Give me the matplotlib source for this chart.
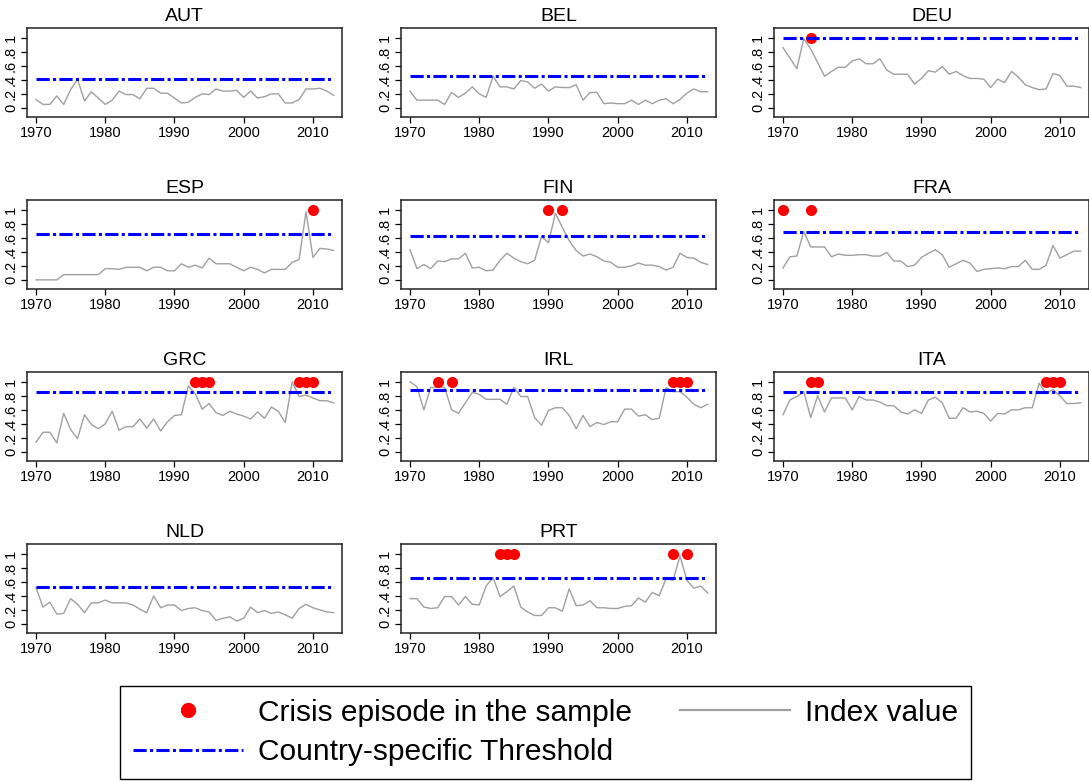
import numpy as np
import matplotlib
matplotlib.use("Agg")
import matplotlib.pyplot as plt
from matplotlib.lines import Line2D

plt.rcParams['font.family'] = ['Liberation Sans', 'DejaVu Sans']
plt.rcParams['lines.scale_dashes'] = False

years = np.arange(1970, 2014)

countries = ["AUT", "BEL", "DEU", "ESP", "FIN", "FRA", "GRC", "IRL", "ITA", "NLD", "PRT"]

aut = [0.12, 0.05, 0.05, 0.17, 0.05, 0.26, 0.41, 0.10, 0.23, 0.14,
       0.05, 0.11, 0.24, 0.19, 0.19, 0.13, 0.28, 0.28, 0.21, 0.21,
       0.14, 0.07, 0.08, 0.15, 0.20, 0.19, 0.27, 0.24, 0.24, 0.25,
       0.15, 0.24, 0.14, 0.16, 0.20, 0.20, 0.07, 0.07, 0.12, 0.27,
       0.27, 0.28, 0.24, 0.18]
bel = [0.24, 0.11, 0.11, 0.11, 0.11, 0.05, 0.22, 0.15, 0.21, 0.30,
       0.20, 0.15, 0.45, 0.30, 0.30, 0.27, 0.39, 0.37, 0.28, 0.34,
       0.24, 0.30, 0.29, 0.29, 0.33, 0.11, 0.22, 0.22, 0.06, 0.07,
       0.06, 0.06, 0.11, 0.05, 0.11, 0.06, 0.11, 0.13, 0.06, 0.12,
       0.21, 0.27, 0.23, 0.23]
deu = [0.86, 0.71, 0.56, 0.99, 0.84, 0.65, 0.45, 0.52, 0.58, 0.58,
       0.67, 0.70, 0.63, 0.63, 0.70, 0.54, 0.48, 0.48, 0.48, 0.34,
       0.42, 0.53, 0.51, 0.59, 0.48, 0.52, 0.46, 0.42, 0.42, 0.41,
       0.29, 0.41, 0.36, 0.52, 0.44, 0.33, 0.29, 0.26, 0.27, 0.49,
       0.46, 0.31, 0.31, 0.29]
esp = [0.00, 0.00, 0.00, 0.00, 0.075, 0.075, 0.075, 0.075, 0.075, 0.075,
       0.16, 0.16, 0.15, 0.18, 0.18, 0.18, 0.13, 0.18, 0.18, 0.13,
       0.13, 0.23, 0.18, 0.21, 0.17, 0.31, 0.23, 0.23, 0.23, 0.18,
       0.13, 0.18, 0.15, 0.10, 0.15, 0.15, 0.15, 0.25, 0.29, 0.97,
       0.32, 0.45, 0.44, 0.42]
fin = [0.43, 0.16, 0.22, 0.16, 0.27, 0.26, 0.30, 0.30, 0.38, 0.17,
       0.18, 0.13, 0.14, 0.28, 0.38, 0.31, 0.26, 0.23, 0.28, 0.62,
       0.53, 0.95, 0.75, 0.56, 0.42, 0.34, 0.37, 0.33, 0.27, 0.25,
       0.18, 0.18, 0.20, 0.24, 0.21, 0.21, 0.19, 0.14, 0.18, 0.38,
       0.32, 0.31, 0.25, 0.22]
fra = [0.17, 0.33, 0.34, 0.69, 0.47, 0.47, 0.47, 0.33, 0.37, 0.35,
       0.35, 0.36, 0.36, 0.34, 0.34, 0.39, 0.27, 0.27, 0.19, 0.21,
       0.32, 0.38, 0.43, 0.36, 0.18, 0.23, 0.28, 0.24, 0.12, 0.15,
       0.16, 0.17, 0.16, 0.19, 0.19, 0.28, 0.15, 0.15, 0.21, 0.49,
       0.31, 0.36, 0.41, 0.41]
grc = [0.14, 0.28, 0.28, 0.13, 0.55, 0.32, 0.19, 0.53, 0.39, 0.33,
       0.40, 0.58, 0.31, 0.36, 0.36, 0.47, 0.34, 0.47, 0.30, 0.43,
       0.52, 0.53, 0.94, 0.83, 0.61, 0.69, 0.56, 0.52, 0.58, 0.54,
       0.51, 0.47, 0.57, 0.48, 0.64, 0.58, 0.42, 1.00, 0.79, 0.81,
       0.77, 0.73, 0.73, 0.70]
irl = [1.00, 0.93, 0.60, 0.92, 0.92, 0.92, 0.60, 0.55, 0.70, 0.85,
       0.82, 0.75, 0.75, 0.75, 0.68, 0.92, 0.79, 0.79, 0.49, 0.38,
       0.59, 0.63, 0.63, 0.52, 0.33, 0.52, 0.36, 0.42, 0.39, 0.43,
       0.43, 0.61, 0.61, 0.51, 0.53, 0.46, 0.48, 0.92, 0.86, 0.86,
       0.78, 0.68, 0.63, 0.68]
ita = [0.53, 0.74, 0.79, 0.86, 0.49, 0.80, 0.57, 0.77, 0.77, 0.77,
       0.60, 0.79, 0.74, 0.74, 0.71, 0.66, 0.66, 0.57, 0.54, 0.60,
       0.55, 0.74, 0.78, 0.70, 0.48, 0.48, 0.63, 0.57, 0.58, 0.55,
       0.44, 0.55, 0.54, 0.60, 0.60, 0.63, 0.63, 0.98, 0.83, 0.89,
       0.80, 0.69, 0.69, 0.70]
nld = [0.52, 0.24, 0.31, 0.14, 0.15, 0.36, 0.28, 0.16, 0.30, 0.30,
       0.34, 0.30, 0.30, 0.30, 0.27, 0.21, 0.16, 0.40, 0.23, 0.27,
       0.27, 0.19, 0.22, 0.23, 0.19, 0.17, 0.05, 0.08, 0.10, 0.04,
       0.08, 0.24, 0.16, 0.19, 0.15, 0.17, 0.13, 0.08, 0.22, 0.28,
       0.23, 0.20, 0.17, 0.16]
prt = [0.36, 0.36, 0.24, 0.22, 0.23, 0.39, 0.39, 0.27, 0.39, 0.28,
       0.27, 0.54, 0.66, 0.39, 0.46, 0.54, 0.24, 0.17, 0.12, 0.12,
       0.23, 0.23, 0.18, 0.50, 0.26, 0.27, 0.33, 0.23, 0.23, 0.22,
       0.22, 0.25, 0.26, 0.37, 0.31, 0.45, 0.40, 0.65, 0.62, 0.97,
       0.62, 0.51, 0.54, 0.44]

index_values = [aut, bel, deu, esp, fin, fra, grc, irl, ita, nld, prt]
thresholds = [0.41, 0.46, 1.00, 0.65, 0.62, 0.69, 0.86, 0.89, 0.86, 0.53, 0.66]
crisis_years = [[], [], [1974], [2010], [1990, 1992], [1970, 1974],
                [1993, 1994, 1995, 2008, 2009, 2010],
                [1974, 1976, 2008, 2009, 2010],
                [1974, 1975, 2008, 2009, 2010], [],
                [1983, 1984, 1985, 2008, 2010]]

W, H = 1089, 781
fig = plt.figure(figsize=(W / 100, H / 100), dpi=100)

col_left = [27, 401, 774]
row_top = [28, 200, 372, 544]
ax_w, ax_h = 315, 89

gray = "#a0a0a0"
dashdot = (0, (9.5, 2.4, 2.2, 2.4))

for i, name in enumerate(countries):
    r, c = divmod(i, 3)
    ax = fig.add_axes([col_left[c] / W, 1 - (row_top[r] + ax_h) / H, ax_w / W, ax_h / H])
    ax.plot(years, index_values[i], color=gray, lw=1.0, zorder=2)
    cy = crisis_years[i]
    if cy:
        ax.plot(cy, np.ones(len(cy)), "o", color="red", ms=8, mec="none", zorder=3)
    ax.hlines(thresholds[i], years[0], years[-1], colors="blue", lw=2.2,
              linestyles=[dashdot], zorder=4)
    ax.set_xlim(1968.7, 2014.2)
    ax.set_ylim(-0.13, 1.14)
    ax.set_xticks([1970, 1980, 1990, 2000, 2010])
    ax.set_yticks([0, 0.2, 0.4, 0.6, 0.8, 1.0])
    ax.set_yticklabels(["0", ".2", ".4", ".6", ".8", "1"], rotation=90, va="center")
    ax.tick_params(direction="out", length=4.5, width=0.9, labelsize=10.5, pad=2)
    for s in ax.spines.values():
        s.set_linewidth(1.1)
        s.set_color("#222222")
    ax.set_title(name, fontsize=14, pad=5)

handles = [Line2D([], [], marker="o", color="red", ls="none", ms=11, mec="none"),
           Line2D([], [], color="blue", lw=2.2, ls=dashdot),
           Line2D([], [], color=gray, lw=1.6)]
labels = ["Crisis episode in the sample", "Country-specific Threshold", "Index value"]
leg = fig.legend(handles, labels, ncol=2, loc="upper left",
                 bbox_to_anchor=(120 / W, 1 - 686 / H), borderaxespad=0,
                 fancybox=False, edgecolor="black", framealpha=1, fontsize=21.5,
                 handlelength=3.7, handletextpad=0.5, columnspacing=1.6,
                 labelspacing=0.39, borderpad=0.42)
leg.get_frame().set_linewidth(1.0)

fig.savefig("out.png", dpi=100)
plt.close(fig)
